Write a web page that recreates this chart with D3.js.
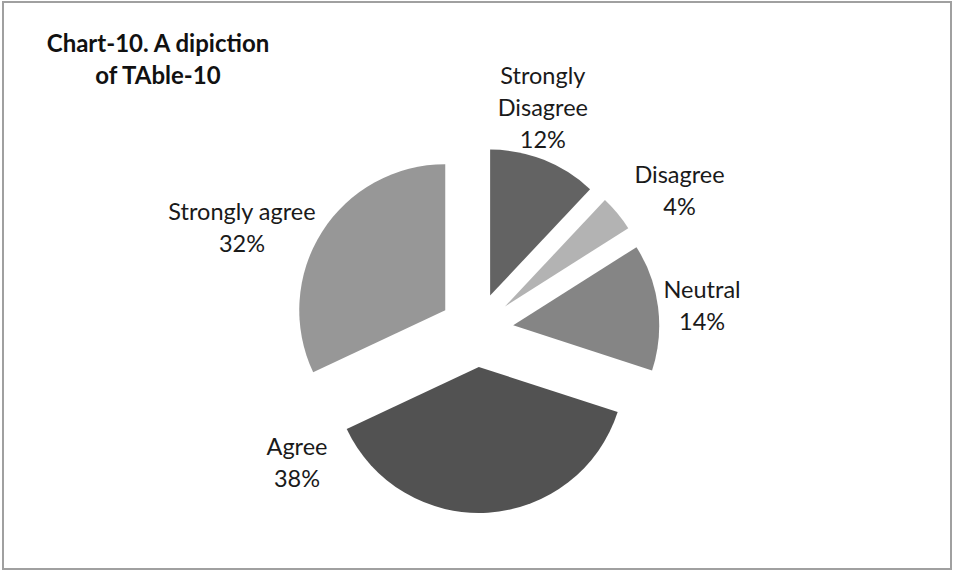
<!DOCTYPE html>
<html>
<head>
<meta charset="utf-8">
<script src="https://cdn.jsdelivr.net/npm/d3@7"></script>
<style>
  html, body { margin: 0; padding: 0; background: #ffffff; }
</style>
</head>
<body>
<script>
/* DATA */
var categories = ['Strongly Disagree', 'Disagree', 'Neutral', 'Agree', 'Strongly agree'];
var percents = [12, 4, 14, 38, 32];
// label text lines (category name may wrap)
var labelLines = [['Strongly', 'Disagree'], ['Disagree'], ['Neutral'], ['Agree'], ['Strongly agree']];
var titleLines = ['Chart-10. A dipiction', 'of TAble-10'];

/* LAYOUT / STYLE */
var width = 953;
var height = 571;
var cx = 476.5;
var cy = 330;
var radius = 146;
var explode = 37;
var lineHeight = 32;
var labelFont = '23.5px Lato';
var titleFont = 'bold 24px Lato';
var textColor = '#1a1a1a';
var sliceColors = ['#636363', '#b3b3b3', '#858585', '#525252', '#979797'];
// nudges of each label box centre from the slice's outer arc point (Excel best-fit placement)
var labelNudge = [[-1, -50], [62, -20], [44, 1], [-191, -48], [-80, -2]];

const svg = d3.select('body').append('svg')
    .attr('width', width)
    .attr('height', height);

// chart frame
svg.append('rect')
    .attr('x', 3)
    .attr('y', 2)
    .attr('width', 948)
    .attr('height', 567)
    .attr('fill', '#ffffff')
    .attr('stroke', '#a0a0a0')
    .attr('stroke-width', 2);

// title
const title = svg.append('text')
    .attr('text-anchor', 'middle')
    .attr('fill', '#111111')
    .style('font', titleFont);
title.selectAll('tspan')
    .data(titleLines)
    .join('tspan')
    .attr('x', 158)
    .attr('y', (d, i) => 52 + i * 31.5)
    .text(d => d);

const pie = d3.pie().sort(null).value(d => d);
const arcs = pie(percents);
const arcGen = d3.arc().innerRadius(0).outerRadius(radius);

const midAngle = d => (d.startAngle + d.endAngle) / 2;

const pieGroup = svg.append('g')
    .attr('transform', `translate(${cx}, ${cy})`);

pieGroup.selectAll('path')
    .data(arcs)
    .join('path')
    .attr('transform', d => {
        const a = midAngle(d);
        return `translate(${explode * Math.sin(a)}, ${-explode * Math.cos(a)})`;
    })
    .attr('fill', (d, i) => sliceColors[i])
    .attr('d', arcGen);

// data labels
const labels = pieGroup.selectAll('text.label')
    .data(arcs)
    .join('text')
    .attr('class', 'label')
    .attr('text-anchor', 'middle')
    .attr('fill', textColor)
    .style('font', labelFont);

labels.each(function(d, i) {
    const a = midAngle(d);
    const px = (explode + radius) * Math.sin(a) + labelNudge[i][0];
    const py = -(explode + radius) * Math.cos(a) + labelNudge[i][1];
    const lines = labelLines[i].concat([percents[i] + '%']);
    const top = py - lines.length * lineHeight / 2;
    d3.select(this).selectAll('tspan')
        .data(lines)
        .join('tspan')
        .attr('x', px)
        .attr('y', (t, k) => top + k * lineHeight + 22)
        .text(t => t);
});
</script>
</body>
</html>
